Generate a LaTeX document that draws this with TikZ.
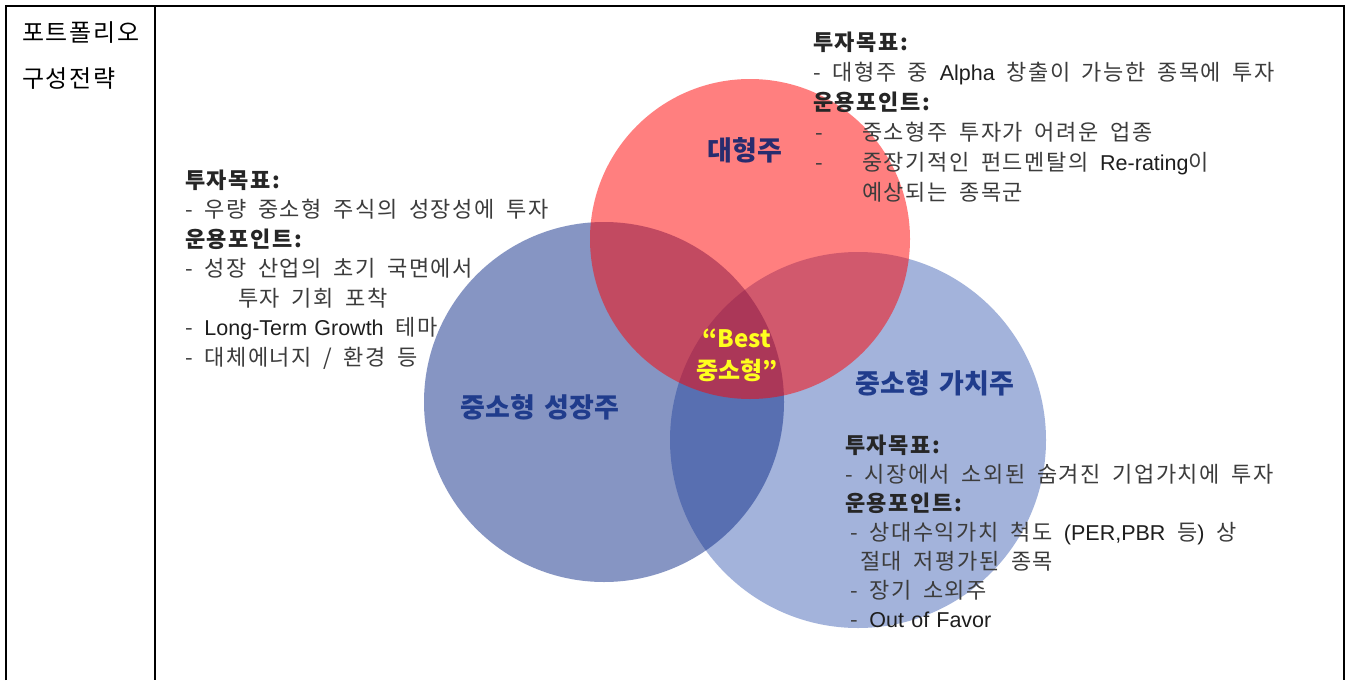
\documentclass[tikz,border=0pt]{standalone}
\usepackage{fontspec}
\setmainfont{Noto Sans CJK KR}[WordSpace=1.8, LetterSpace=7]
\newfontfamily\labfont{Noto Sans CJK KR}[WordSpace=1.6]
\newfontfamily\latf{Liberation Sans}[WordSpace=1.2]
\newcommand\latx[1]{{\fontsize{21.5}{26}\latf\color{latgray}#1}}
\definecolor{txtgray}{RGB}{60,60,60}
\definecolor{latgray}{RGB}{30,30,30}
\definecolor{navy}{RGB}{40,44,110}
\definecolor{bluetxt}{RGB}{32,60,140}
\definecolor{yel}{RGB}{255,255,30}
\definecolor{redC}{RGB}{255,0,0}
\definecolor{blueL}{RGB}{15,45,137}
\definecolor{blueR}{RGB}{73,105,185}
\begin{document}
\begin{tikzpicture}[x=1pt,y=-1pt,
  body/.style={anchor=base west, inner sep=0pt, font=\fontsize{22}{26}\selectfont, text=txtgray},
  head/.style={anchor=base west, inner sep=0pt, font=\fontsize{22}{26}\selectfont\bfseries, text=black!85},
  cell/.style={anchor=base west, inner sep=0pt, font=\fontsize{24}{28}\selectfont, text=black},
  big/.style={inner sep=0pt, font=\fontsize{27}{31}\labfont\bfseries},
  best/.style={inner sep=0pt, font=\fontsize{24}{28}\labfont\bfseries, text=yel},
  disc/.style={circle, inner sep=0pt, draw=none, fill opacity=0.5},
  rule/.style={line width=2.6pt}]
\useasboundingbox (0,0) rectangle (1351,680);
\fill[white] (0,0) rectangle (1351,680);
% circles
\node[disc, fill=blueR, minimum size=376pt] (cv) at (858,440) {};
\node[disc, fill=blueL, minimum size=360pt] (cg) at (604,402) {};
\node[disc, fill=redC, minimum size=320pt] (cl) at (750,239) {};
% table
\draw[rule] (6,680) -- (6,6) -- (1344,6) -- (1344,680);
\draw[rule] (155,6) -- (155,680);
% left cell
\node[cell] (c1) at (22,41) {포트폴리오};
\node[cell] (c2) at (22,87) {구성전략};
% top-right block
\node[head] (tr1) at (813,50) {투자목표:};
\node[body] (tr2) at (813,80) {- 대형주 중 \latx{Alpha} 창출이 가능한 종목에 투자};
\node[head] (tr3) at (813,110) {운용포인트:};
\node[body] (tr4d) at (815,140) {-};
\node[body] (tr4) at (862,140) {중소형주 투자가 어려운 업종};
\node[body] (tr5d) at (815,170) {-};
\node[body] (tr5) at (862,170) {중장기적인 펀드멘탈의 \latx{Re-rating}이};
\node[body] (tr6) at (862,200) {예상되는 종목군};
% left block
\node[head] (l1) at (185,188) {투자목표:};
\node[body] (l2) at (185,217) {- 우량 중소형 주식의 성장성에 투자};
\node[head] (l3) at (185,247) {운용포인트:};
\node[body] (l4) at (185,276) {- 성장 산업의 초기 국면에서};
\node[body] (l5) at (238,306) {투자 기회 포착};
\node[body] (l6) at (185,335) {- \latx{Long-Term Growth} 테마};
\node[body] (l7) at (185,365) {- 대체에너지 / 환경 등};
% bottom-right block
\node[head] (r1) at (845,453) {투자목표:};
\node[body] (r2) at (845,482) {- 시장에서 소외된 숨겨진 기업가치에 투자};
\node[head] (r3) at (845,511) {운용포인트:};
\node[body] (r4) at (850,540) {- 상대수익가치 척도 \latx{(PER,PBR} 등\latx{)} 상};
\node[body] (r5) at (860,569) {절대 저평가된 종목};
\node[body] (r6) at (850,598) {- 장기 소외주};
\node[body] (r7) at (850,627) {- \latx{Out of Favor}};
% circle labels
\node[big, text=navy] (lgl) at (745,150) {대형주};
\node[big, text=bluetxt] (sgl) at (540,407) {중소형 성장주};
\node[big, text=bluetxt] (svl) at (935,383) {중소형 가치주};
\node[best] (b1) at (737,338) {“Best};
\node[best] (b2) at (737,370) {중소형”};
\end{tikzpicture}
\end{document}
